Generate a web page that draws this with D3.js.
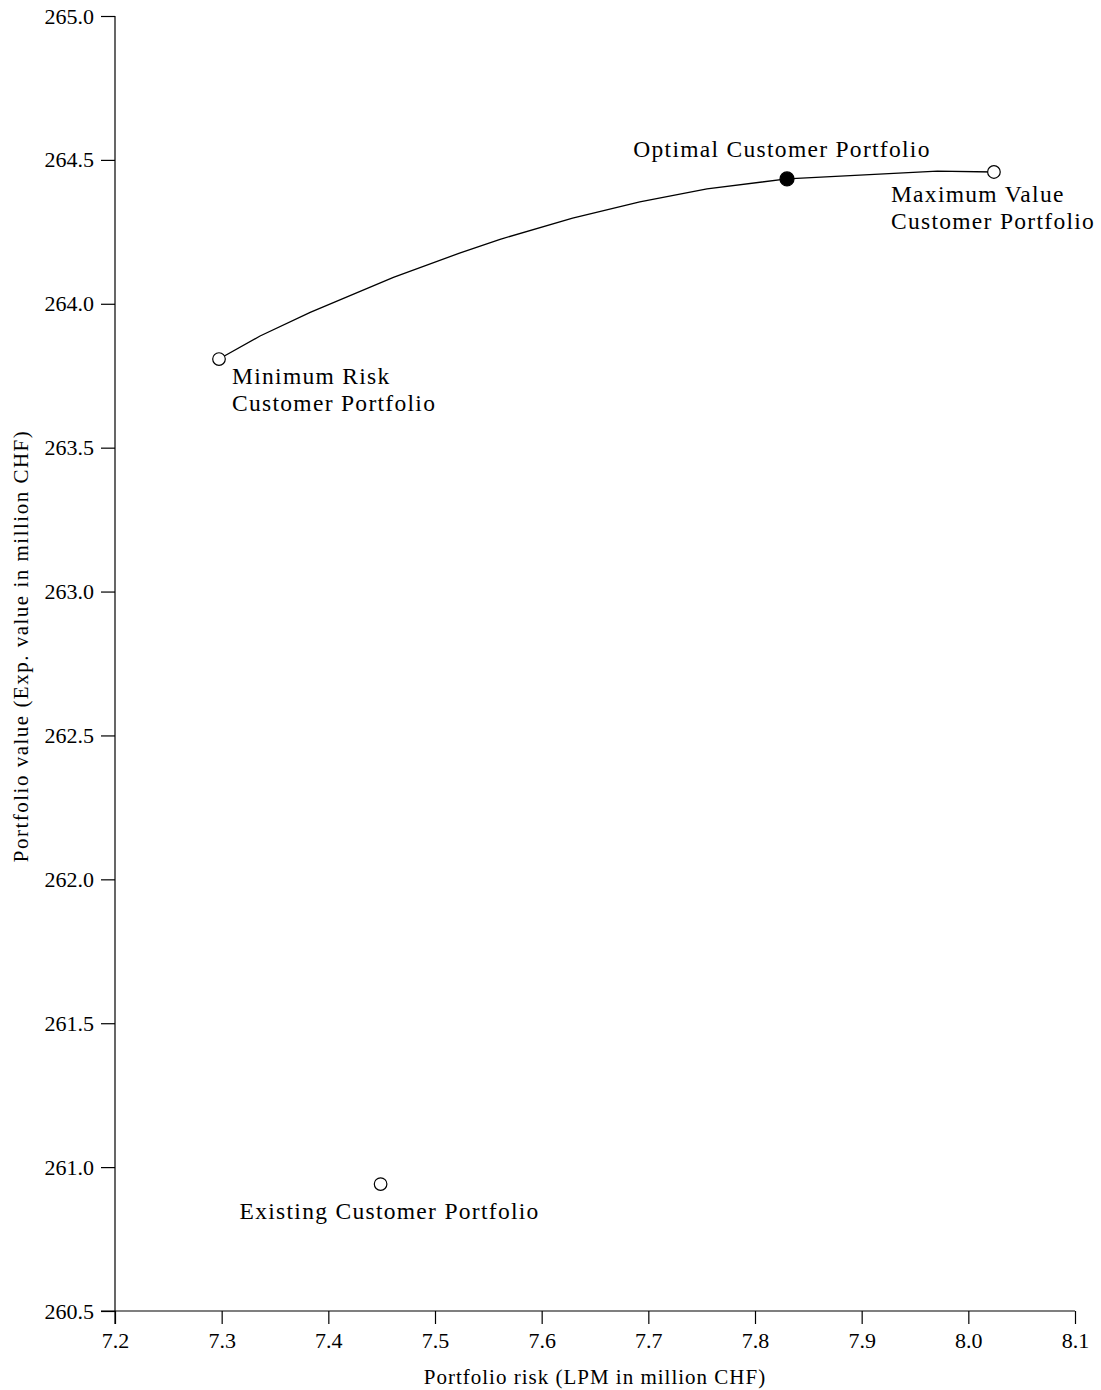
<!DOCTYPE html>
<html>
<head>
<meta charset="utf-8">
<script src="https://cdn.jsdelivr.net/npm/d3@7"></script>
<style>
  html, body { margin: 0; padding: 0; background: #fff; }
  svg text { font-family: "Liberation Serif", "DejaVu Serif", serif; fill: #000; }
</style>
</head>
<body>
<svg id="chart" width="1101" height="1390"></svg>
<script>
// Efficient frontier (risk, value)
const frontierRisk  = [7.2975, 7.336, 7.383, 7.461, 7.523, 7.561, 7.629, 7.692, 7.755, 7.830, 7.971, 8.024];
const frontierValue = [263.808, 263.888, 263.970, 264.092, 264.176, 264.224, 264.298, 264.354, 264.399, 264.434, 264.461, 264.458];

// Named portfolios
const portfolioNames  = ["Minimum Risk|Customer Portfolio", "Optimal Customer Portfolio", "Maximum Value|Customer Portfolio", "Existing Customer Portfolio"];
const portfolioRisk   = [7.2975, 7.830, 8.024, 7.449];
const portfolioValue  = [263.808, 264.434, 264.458, 260.941];
const portfolioFilled = [false, true, false, false];

const xTicks = [7.2, 7.3, 7.4, 7.5, 7.6, 7.7, 7.8, 7.9, 8.0, 8.1];
const yTicks = [260.5, 261.0, 261.5, 262.0, 262.5, 263.0, 263.5, 264.0, 264.5, 265.0];

const xTitle = "Portfolio risk (LPM in million CHF)";
const yTitle = "Portfolio value (Exp. value in million CHF)";

const svg = d3.select("#chart");
const x = d3.scaleLinear().domain([7.2, 8.1]).range([115, 1075]);
const y = d3.scaleLinear().domain([260.5, 265.0]).range([1311, 16]);

// Axes
const xAxis = svg.append("g").attr("transform", `translate(0,${y(260.5)})`)
  .call(d3.axisBottom(x).tickValues(xTicks).tickFormat(d3.format(".1f")).tickSize(13).tickPadding(8).tickSizeOuter(0));
const yAxis = svg.append("g").attr("transform", `translate(${x(7.2)},0)`)
  .call(d3.axisLeft(y).tickValues(yTicks).tickFormat(d3.format(".1f")).tickSize(14).tickPadding(7).tickSizeOuter(0));
[xAxis, yAxis].forEach(g => {
  g.selectAll("text").attr("font-size", 22).attr("font-family", null);
  g.selectAll("line, path").attr("stroke", "#000").attr("stroke-width", 1.2);
  g.attr("font-family", null);
});
yAxis.select(".domain").attr("d", `M0,${y(265)}V${y(260.5) + 13}`);
xAxis.select(".domain").attr("d", `M${x(7.2) - 14},0H${x(8.1)}`);

// Titles
svg.append("text").attr("x", (x(7.2) + x(8.1)) / 2).attr("y", 1384)
  .attr("text-anchor", "middle").attr("font-size", 21).attr("letter-spacing", 1).text(xTitle);
svg.append("text").attr("transform", `translate(28,646) rotate(-90)`)
  .attr("text-anchor", "middle").attr("font-size", 21).attr("letter-spacing", 1.5).text(yTitle);

// Frontier line
const frontier = frontierRisk.map((r, i) => [r, frontierValue[i]]);
svg.append("path").datum(frontier)
  .attr("d", d3.line().x(d => x(d[0])).y(d => y(d[1])))
  .attr("fill", "none").attr("stroke", "#000").attr("stroke-width", 1.3);

// Markers
const pts = portfolioNames.map((n, i) => ({ name: n, r: portfolioRisk[i], v: portfolioValue[i], filled: portfolioFilled[i] }));
svg.selectAll("circle.pt").data(pts).enter().append("circle")
  .attr("cx", d => x(d.r)).attr("cy", d => y(d.v))
  .attr("r", d => d.filled ? 7 : 6.3)
  .attr("fill", d => d.filled ? "#000" : "#fff")
  .attr("stroke", "#000").attr("stroke-width", 1.2);

// Labels (offsets relative to markers)
const labelOffsets = [
  { dx: 13, dy: 25, anchor: "start" },
  { dx: -5, dy: -22, anchor: "middle" },
  { dx: -103, dy: 30, anchor: "start" },
  { dx: 9, dy: 35, anchor: "middle" }
];
pts.forEach((d, i) => {
  const o = labelOffsets[i];
  const t = svg.append("text")
    .attr("x", x(d.r) + o.dx).attr("y", y(d.v) + o.dy)
    .attr("text-anchor", o.anchor).attr("font-size", 23.5).attr("letter-spacing", 1.3);
  d.name.split("|").forEach((line, j) => {
    t.append("tspan").attr("x", x(d.r) + o.dx).attr("dy", j === 0 ? 0 : 27).text(line);
  });
});
</script>
</body>
</html>
